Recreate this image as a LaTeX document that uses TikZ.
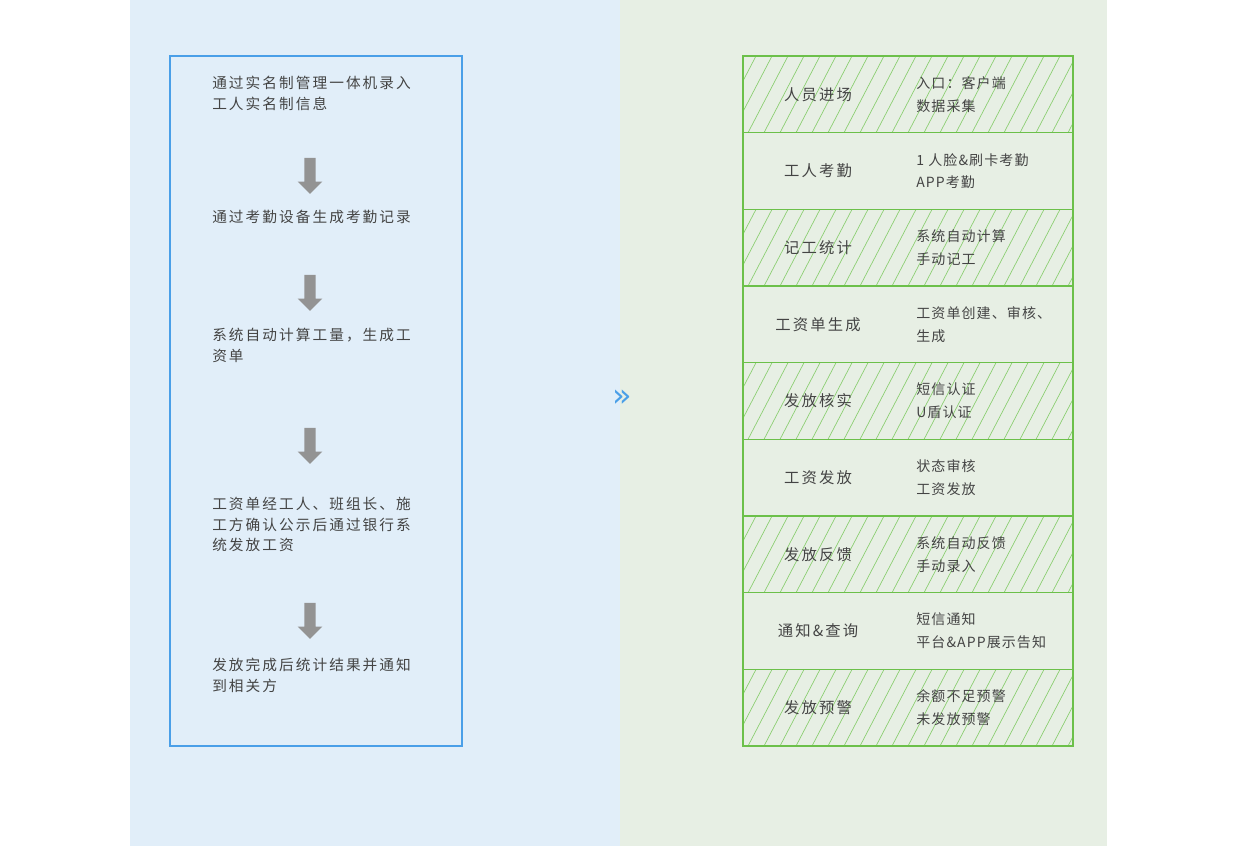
\documentclass[tikz,border=0pt]{standalone}
\usepackage{fontspec}
\newfontfamily\cjk[LetterSpace=14]{Noto Sans CJK SC}
\newfontfamily\cjkr[LetterSpace=8]{Noto Sans CJK SC}
\newfontfamily\symb{DejaVu Sans}
\usetikzlibrary{positioning,shapes.arrows}

\definecolor{bluebg}{HTML}{E1EEF9}
\definecolor{greenbg}{HTML}{E7EFE4}
\definecolor{blueline}{HTML}{4A9FE8}
\definecolor{greenline}{HTML}{6CC04A}
\definecolor{txt}{HTML}{444444}

\tikzset{
  steptext/.style = {anchor=north west, text width=200pt, align=left, font=\cjk\fontsize{11}{15.5}\selectfont, text=txt, inner sep=0pt},
  downarrow/.style = {single arrow, fill=gray!85, draw=none, rotate=-90, minimum height=27pt, inner sep=4pt, single arrow head extend=5pt},
  rowlabel/.style = {font=\cjk\fontsize{11.5}{14}\selectfont, text=txt},
  rowtext/.style = {anchor=west, align=left, font=\cjkr\fontsize{10.5}{17}\selectfont, text=txt, inner sep=0pt}
}

\begin{document}
\begin{tikzpicture}[x=0.75pt, y=-0.75pt]
\useasboundingbox (0,0) rectangle (1237,846);

% backgrounds
\fill[bluebg] (130,0) rectangle (620,846);
\fill[greenbg] (620,0) rectangle (1107,846);

% left flow
\draw[blueline, line width=1pt] (170,56) rectangle (462,746);
\node[steptext] (s1) at (212,76) {通过实名制管理一体机录入\\工人实名制信息};
\node[steptext] (s2) at (212,210) {通过考勤设备生成考勤记录};
\node[steptext] (s3) at (212,328) {系统自动计算工量，生成工\\资单};
\node[steptext] (s4) at (212,497) {工资单经工人、班组长、施\\工方确认公示后通过银行系\\统发放工资};
\node[steptext] (s5) at (212,658) {发放完成后统计结果并通知\\到相关方};

\node[downarrow] (a1) at (310,173) {};
\node[downarrow] (a2) at (310,290) {};
\node[downarrow] (a3) at (310,443) {};
\node[downarrow] (a4) at (310,618) {};

% middle chevron
\node[text=blueline, font=\symb\fontsize{24}{24}\selectfont] (chev) at (622,398) {»};

% right table
\foreach \i in {0,2,4,6,8} {
  \begin{scope}
  \clip (743,{56+\i*76.67}) rectangle (1073,{56+(\i+1)*76.67});
  \foreach \x in {700,716,...,1080}
    \draw[greenline!80, line width=0.5pt] (\x,{56+(\i+1)*76.67}) -- ({\x+40},{56+\i*76.67});
  \end{scope}
}
\foreach \i in {1,...,8}
  \draw[greenline, line width=0.8pt] (743,{56+\i*76.67}) -- (1073,{56+\i*76.67});
\draw[greenline, line width=1pt] (743,56) rectangle (1073,746);

\foreach \lab/\txt [count=\i from 0] in {
  人员进场/{入口：客户端\\数据采集},
  工人考勤/{1 人脸\&刷卡考勤\\APP考勤},
  记工统计/{系统自动计算\\手动记工},
  工资单生成/{工资单创建、审核、\\生成},
  发放核实/{短信认证\\U盾认证},
  工资发放/{状态审核\\工资发放},
  发放反馈/{系统自动反馈\\手动录入},
  通知\&查询/{短信通知\\平台\&APP展示告知},
  发放预警/{余额不足预警\\未发放预警}} {
  \node[rowlabel] (l\i) at (818,{56+(\i+0.5)*76.67}) {\lab};
  \node[rowtext] (t\i) at (916,{56+(\i+0.5)*76.67}) {\txt};
}
\end{tikzpicture}
\end{document}
